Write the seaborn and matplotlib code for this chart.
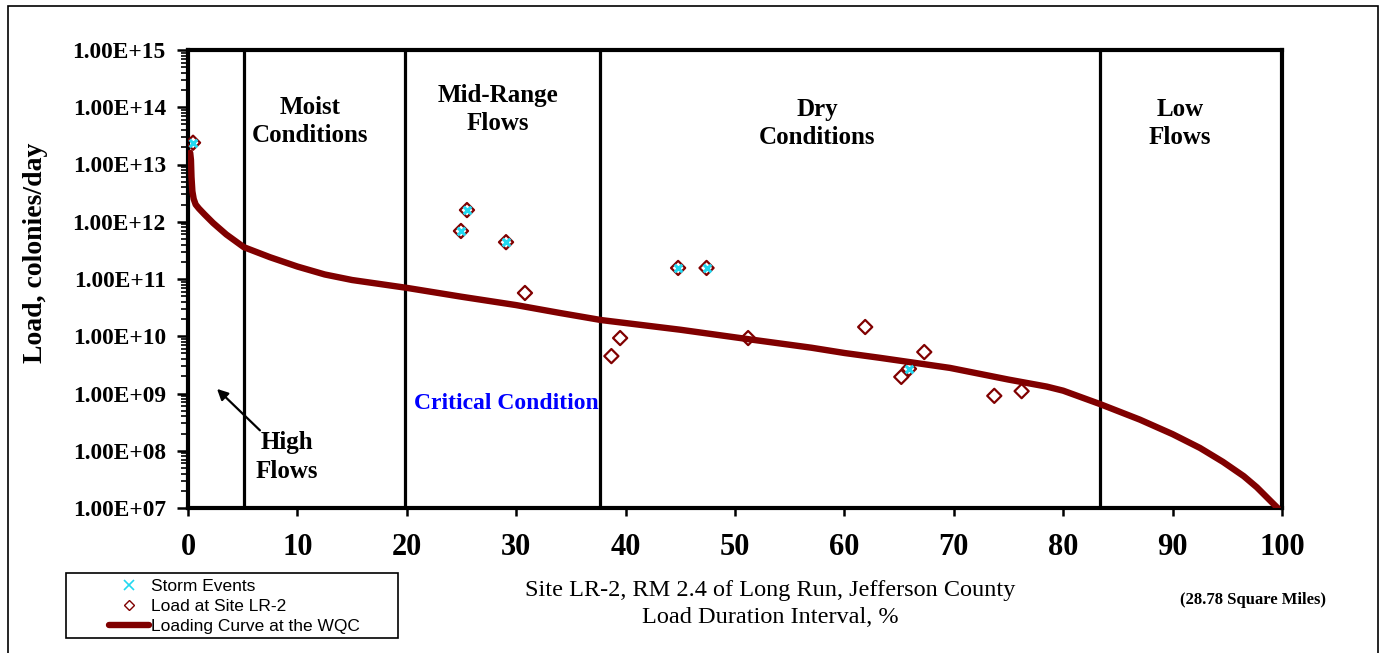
import numpy as np
import pandas as pd
import matplotlib
matplotlib.use("Agg")
import matplotlib.pyplot as plt
import seaborn as sns
from matplotlib.ticker import LogLocator, FuncFormatter, NullFormatter
from matplotlib.lines import Line2D
from matplotlib.patches import Rectangle

# ---------------- data ----------------
curve_pct = [0.2, 0.27, 0.32, 0.4, 0.52, 0.7, 1.0, 1.5, 2.3, 3.5, 5.1, 7.5, 10, 12.5, 15,
             20, 25, 30, 34, 37.75, 45, 51.2, 57, 60, 63.25, 69.65, 75, 78.5, 80, 83.4,
             87, 90, 92.5, 94.6, 96.5, 97.7, 99.0, 99.6]
curve_load = [1.6e13, 1.2e13, 6.0e12, 3.4e12, 2.5e12, 2.0e12, 1.7e12, 1.35e12, 9.5e11,
              6.0e11, 3.6e11, 2.4e11, 1.65e11, 1.2e11, 9.6e10, 7.0e10, 4.9e10, 3.5e10,
              2.55e10, 1.92e10, 1.3e10, 8.9e9, 6.3e9, 5.1e9, 4.2e9, 2.8e9, 1.75e9,
              1.32e9, 1.12e9, 6.5e8, 3.5e8, 1.95e8, 1.12e8, 6.4e7, 3.6e7, 2.3e7, 1.3e7,
              1.0e7]

site_pct = [0.46, 24.95, 25.5, 29.07, 30.8, 38.7, 39.5, 44.8, 47.4, 51.2, 61.9,
            65.2, 65.9, 67.3, 73.7, 76.2]
site_load = [2.4e13, 6.9e11, 1.6e12, 4.4e11, 5.7e10, 4.5e9, 9.3e9, 1.56e11, 1.56e11,
             9.3e9, 1.45e10, 1.95e9, 2.7e9, 5.3e9, 9.1e8, 1.1e9]

storm_pct = [0.46, 24.95, 25.5, 29.07, 44.8, 47.4, 65.9]
storm_load = [2.4e13, 6.9e11, 1.6e12, 4.4e11, 1.56e11, 1.56e11, 2.7e9]

zone_bounds = [5.1, 19.8, 37.7, 83.4]
zone_labels = ["Moist\nConditions", "Mid-Range\nFlows", "Dry\nConditions", "Low\nFlows"]
x_ticks = [0, 10, 20, 30, 40, 50, 60, 70, 80, 90, 100]

curve_df = pd.DataFrame({"pct": curve_pct, "load": curve_load})
site_df = pd.DataFrame({"pct": site_pct, "load": site_load})
storm_df = pd.DataFrame({"pct": storm_pct, "load": storm_load})

# ---------------- style ----------------
sns.set_theme(style="white")
plt.rcParams['font.family'] = ['Liberation Serif', 'DejaVu Serif']
plt.rcParams.update({"text.color": "black", "axes.labelcolor": "black",
                     "xtick.color": "black", "ytick.color": "black"})

CURVE = "#800000"
STORM = "#22D8F0"

fig = plt.figure(figsize=(13.85, 6.53), dpi=100)
ax = fig.add_axes([188/1385, 1-508/653, 1094/1385, 458/653])

sns.lineplot(data=curve_df, x="pct", y="load", ax=ax, color=CURVE, lw=4.6,
             zorder=3, legend=False)
sns.scatterplot(data=site_df, x="pct", y="load", ax=ax, marker="D", s=52,
                facecolor="none", edgecolor=CURVE, linewidth=1.6, zorder=4, legend=False)
sns.scatterplot(data=storm_df, x="pct", y="load", ax=ax, marker="x", s=30,
                color=STORM, linewidth=2.2, zorder=5, legend=False)

for xb in zone_bounds:
    ax.axvline(xb, color="black", lw=2.3, zorder=2)

ax.set_xlim(0, 100)
ax.set_yscale("log")
ax.set_ylim(1e7, 1e15)

ax.set_xticks(x_ticks)
ax.yaxis.set_major_locator(LogLocator(base=10, numticks=20))
ax.yaxis.set_minor_locator(LogLocator(base=10, subs=np.arange(2, 10), numticks=200))
ax.yaxis.set_minor_formatter(NullFormatter())
ax.yaxis.set_major_formatter(FuncFormatter(lambda v, p: f"{v:.2E}"))

ax.tick_params(axis="x", which="major", direction="out", length=6, width=1.8,
               labelsize=22, pad=12, bottom=True, top=False, color="black",
               labelcolor="black")
ax.tick_params(axis="y", which="major", direction="out", length=8, width=1.8,
               labelsize=16.8, pad=8, left=True, right=False, color="black",
               labelcolor="black")
ax.tick_params(axis="y", which="minor", direction="out", length=5, width=1.2,
               left=True, right=False, color="black")
for lab in ax.get_xticklabels() + ax.get_yticklabels():
    lab.set_fontweight("bold")

for sp in ax.spines.values():
    sp.set_visible(True)
    sp.set_color("black")
    sp.set_linewidth(3)

ax.set_xlabel("Site LR-2, RM 2.4 of Long Run, Jefferson County\nLoad Duration Interval, %",
              fontsize=17.5, fontweight="normal", va="center", linespacing=1.35)
ax.xaxis.set_label_coords((770-188)/1094, (508-604)/458)
ax.set_ylabel("Load, colonies/day", fontsize=20, fontweight="bold", va="center")
ax.yaxis.set_label_coords((35-188)/1094, (508-253)/458)

# zone annotations
zone_text_pos = [(11.15, 5.6e13), (28.3, 9.2e13), (57.5, 5.2e13), (90.7, 5.2e13)]
for (tx, ty), lab in zip(zone_text_pos, zone_labels):
    ax.text(tx, ty, lab, ha="center", va="center", fontsize=18, fontweight="bold",
            linespacing=1.3)
ax.text(9.05, 7.8e7, "High\nFlows", ha="center", va="center", fontsize=18,
        fontweight="bold", linespacing=1.3)
ax.annotate("", xy=(2.47, 1.3e9), xytext=(6.76, 2.1e8),
            arrowprops=dict(arrowstyle="-|>", color="black", lw=1.6, mutation_scale=16))
ax.text(29.07, 6.8e8, "Critical Condition", ha="center", va="center", fontsize=17,
        fontweight="bold", color="#0000FF")

fig.text(1253/1385, 1-600/653, "(28.78 Square Miles)", ha="center", va="center",
         fontsize=12, fontweight="bold")

# legend
handles = [
    Line2D([], [], ls="none", marker="x", color=STORM, markersize=7, markeredgewidth=1.2),
    Line2D([], [], ls="none", marker="D", markerfacecolor="none", markeredgecolor=CURVE,
           markersize=5, markeredgewidth=1.0),
    Line2D([], [], color=CURVE, lw=4.6),
]
labels = ["Storm Events", "Load at Site LR-2", "Loading Curve at the WQC"]
fig.legend(handles, labels, loc="upper left", bbox_to_anchor=(100/1385, 1-570/653),
           frameon=False, borderpad=0, handletextpad=0.15, handlelength=2.3,
           labelspacing=0.28, prop={"family": "Liberation Sans", "size": 12.5})
fig.add_artist(Rectangle((66/1385, 1-638/653), 332/1385, 65/653, transform=fig.transFigure,
                         fill=False, edgecolor="black", lw=1.2))

# outer border
fig.add_artist(Rectangle((8/1385, -0.02), 1370/1385, 1-6/653+0.02, transform=fig.transFigure,
                         fill=False, edgecolor="black", lw=1.2, clip_on=False))

fig.savefig("out.png", dpi=100)
